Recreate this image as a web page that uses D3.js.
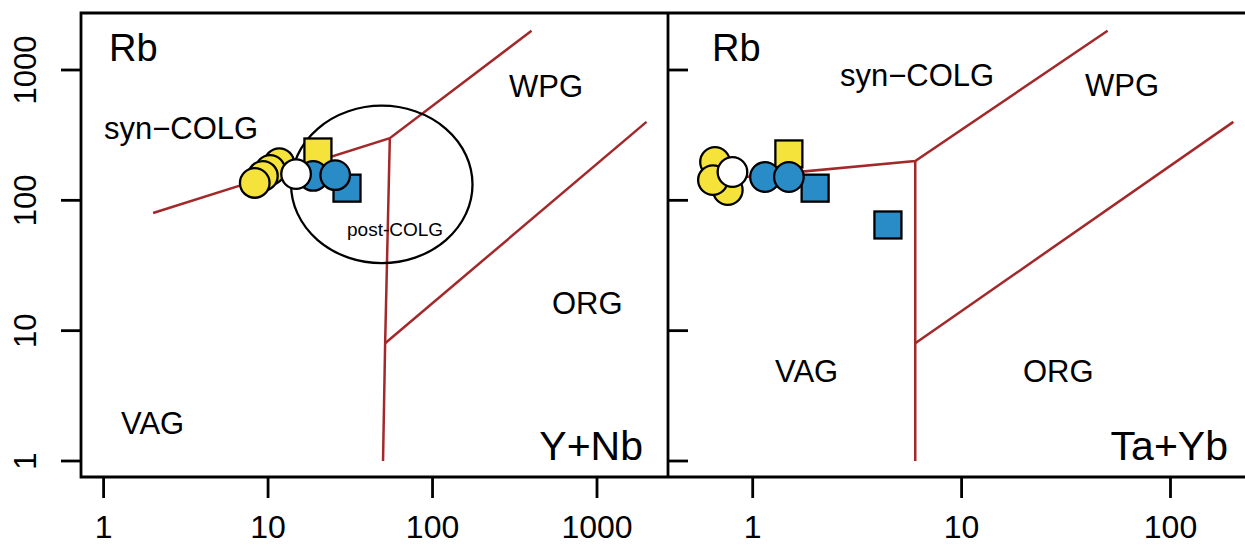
<!DOCTYPE html>
<html><head><meta charset="utf-8">
<script src="https://cdn.jsdelivr.net/npm/d3@7"></script>
<style>html,body{margin:0;padding:0;background:#fff;}svg{display:block;font-family:"Liberation Sans",Arial,Helvetica,sans-serif;}</style>
</head><body>
<svg id="chart" width="1245" height="553"></svg>
<script>
// ---- data ----
const yTicks = [1, 10, 100, 1000];
const xTicksLeft = [1, 10, 100, 1000];
const xTicksRight = [1, 10, 100];

// Pearce et al. (1984) boundaries, left panel (Y+Nb vs Rb)
const leftLines = [
  [[2, 80], [55, 300], [400, 2000]],
  [[55, 300], [51.5, 8], [50, 1]],
  [[51.5, 8], [2000, 400]]
];
// post-COLG field (ellipse bounds in data units)
const postColgX = [13.8, 175];
const postColgY = [33, 532];

// right panel (Ta+Yb vs Rb)
const rightLines = [
  [[0.55, 140], [6, 200], [50, 2000]],
  [[6, 200], [6, 1]],
  [[6, 8], [200, 400]]
];

// samples, left panel
const L_yellowSq_x = [20.1], L_yellowSq_y = [235];
const L_blueSq_x = [30.2], L_blueSq_y = [124];
const L_blueCirc_x = [18.8, 25.6], L_blueCirc_y = [154, 156];
const L_yellowCirc_x = [11.7, 10.3, 9.3, 8.3], L_yellowCirc_y = [193, 171, 154, 136];
const L_whiteCirc_x = [14.8], L_whiteCirc_y = [159];

// samples, right panel
const R_yellowSq_x = [1.49], R_yellowSq_y = [227];
const R_blueSq_x = [1.99, 4.44], R_blueSq_y = [124, 64.7];
const R_blueCirc_x = [1.145, 1.49], R_blueCirc_y = [151, 151];
const R_yellowCirc_x = [0.66, 0.76, 0.645], R_yellowCirc_y = [197, 120, 143];
const R_whiteCirc_x = [0.80], R_whiteCirc_y = [165];

// ---- layout ----
const YELLOW = "#f5e33c", BLUE = "#2a8cc7", WHITE = "#ffffff", RED = "#a3282a";
const svg = d3.select("#chart");
const frameTop = 13, frameBottom = 477, leftEdge = 81, mid = 668, rightEdge = 1250;

const y = d3.scaleLog().domain([1, 1000]).range([461, 70]);
const xL = d3.scaleLog().domain([1, 1000]).range([103.6, 597]);
const xR = d3.scaleLog().domain([1, 100]).range([752.7, 1170.5]);

const lineGen = (xs) => d3.line().x(d => xs(d[0])).y(d => y(d[1]));

// field boundaries
svg.append("g").selectAll("path").data(leftLines).join("path")
  .attr("d", lineGen(xL)).attr("fill", "none").attr("stroke", RED).attr("stroke-width", 2.5);
svg.append("g").selectAll("path").data(rightLines).join("path")
  .attr("d", lineGen(xR)).attr("fill", "none").attr("stroke", RED).attr("stroke-width", 2.5);

// ellipse
const ex0 = xL(postColgX[0]), ex1 = xL(postColgX[1]), ey0 = y(postColgY[1]), ey1 = y(postColgY[0]);
svg.append("ellipse").attr("cx", (ex0 + ex1) / 2).attr("cy", (ey0 + ey1) / 2)
  .attr("rx", (ex1 - ex0) / 2).attr("ry", (ey1 - ey0) / 2)
  .attr("fill", "none").attr("stroke", "#000").attr("stroke-width", 2.3);

// frame
svg.append("path").attr("d", `M${rightEdge},${frameTop}H${leftEdge}V${frameBottom}H${rightEdge}M${mid},${frameTop}V${frameBottom}`)
  .attr("fill", "none").attr("stroke", "#000").attr("stroke-width", 2.8);

// y axis left (ticks outside)
const yAxisL = svg.append("g");
yAxisL.selectAll("line").data(yTicks).join("line")
  .attr("x1", leftEdge - 20).attr("x2", leftEdge).attr("y1", d => y(d)).attr("y2", d => y(d))
  .attr("stroke", "#000").attr("stroke-width", 2.8);
yAxisL.selectAll("text").data(yTicks).join("text")
  .attr("transform", d => `translate(36,${y(d)}) rotate(-90)`)
  .attr("text-anchor", "middle").attr("font-size", 31).text(d => d);
// y ticks right panel
svg.append("g").selectAll("line").data(yTicks).join("line")
  .attr("x1", mid).attr("x2", mid + 20).attr("y1", d => y(d)).attr("y2", d => y(d))
  .attr("stroke", "#000").attr("stroke-width", 2.8);

// x axes
function xAxis(scale, ticks) {
  const g = svg.append("g");
  g.selectAll("line").data(ticks).join("line")
    .attr("x1", d => scale(d)).attr("x2", d => scale(d)).attr("y1", frameBottom).attr("y2", frameBottom + 21)
    .attr("stroke", "#000").attr("stroke-width", 2.8);
  g.selectAll("text").data(ticks).join("text")
    .attr("x", d => scale(d)).attr("y", 538).attr("text-anchor", "middle")
    .attr("font-size", 32).text(d => d);
}
xAxis(xL, xTicksLeft);
xAxis(xR, xTicksRight);

// labels
const labels = [
  {t: "Rb", x: 109, y: 61, s: 38, a: "start"},
  {t: "syn\u2212COLG", x: 104, y: 139, s: 31, a: "start"},
  {t: "WPG", x: 509, y: 97, s: 31, a: "start"},
  {t: "post-COLG", x: 347, y: 236, s: 19, a: "start"},
  {t: "ORG", x: 552, y: 314, s: 31, a: "start"},
  {t: "VAG", x: 121, y: 434, s: 31, a: "start"},
  {t: "Y+Nb", x: 643, y: 460, s: 41, a: "end"},
  {t: "Rb", x: 712, y: 61, s: 38, a: "start"},
  {t: "syn\u2212COLG", x: 840, y: 86, s: 31, a: "start"},
  {t: "WPG", x: 1085, y: 96, s: 31, a: "start"},
  {t: "VAG", x: 775, y: 382, s: 31, a: "start"},
  {t: "ORG", x: 1023, y: 382, s: 31, a: "start"},
  {t: "Ta+Yb", x: 1228, y: 460, s: 41, a: "end"}
];
svg.append("g").selectAll("text").data(labels).join("text")
  .attr("x", d => d.x).attr("y", d => d.y).attr("font-size", d => d.s)
  .attr("text-anchor", d => d.a).text(d => d.t);

// points
const R = 14.8, S = 27;
function squares(xs, xv, yv, fill) {
  svg.append("g").selectAll("rect").data(d3.zip(xv, yv)).join("rect")
    .attr("x", d => xs(d[0]) - S / 2).attr("y", d => y(d[1]) - S / 2)
    .attr("width", S).attr("height", S)
    .attr("fill", fill).attr("stroke", "#000").attr("stroke-width", 2.3);
}
function circles(xs, xv, yv, fill) {
  svg.append("g").selectAll("circle").data(d3.zip(xv, yv)).join("circle")
    .attr("cx", d => xs(d[0])).attr("cy", d => y(d[1])).attr("r", R)
    .attr("fill", fill).attr("stroke", "#000").attr("stroke-width", 2.3);
}
squares(xL, L_yellowSq_x, L_yellowSq_y, YELLOW);
squares(xL, L_blueSq_x, L_blueSq_y, BLUE);
circles(xL, L_blueCirc_x, L_blueCirc_y, BLUE);
circles(xL, L_yellowCirc_x, L_yellowCirc_y, YELLOW);
circles(xL, L_whiteCirc_x, L_whiteCirc_y, WHITE);

squares(xR, R_yellowSq_x, R_yellowSq_y, YELLOW);
squares(xR, R_blueSq_x, R_blueSq_y, BLUE);
circles(xR, R_blueCirc_x, R_blueCirc_y, BLUE);
circles(xR, R_yellowCirc_x, R_yellowCirc_y, YELLOW);
circles(xR, R_whiteCirc_x, R_whiteCirc_y, WHITE);
</script>
</body></html>
